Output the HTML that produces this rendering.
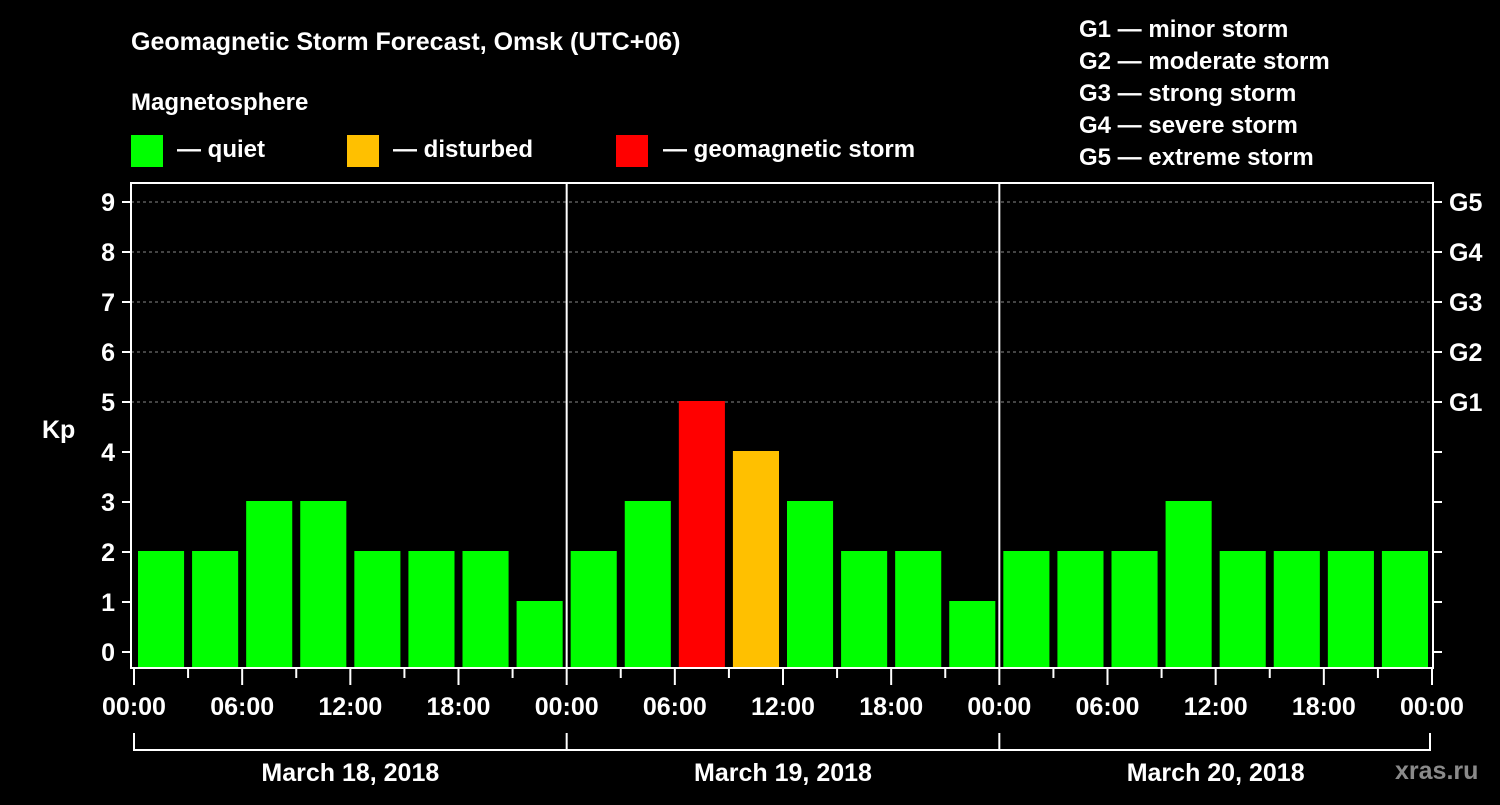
<!DOCTYPE html>
<html><head><meta charset="utf-8"><style>
body{margin:0;background:#000;width:1500px;height:800px;overflow:hidden}
svg text{font-family:"Liberation Sans",Arial,sans-serif;font-weight:bold;fill:#fff}
</style></head><body>
<svg id="c" width="1500" height="800" xmlns="http://www.w3.org/2000/svg">
<rect width="1500" height="800" fill="#000"/>
<text x="131" y="50" font-size="25">Geomagnetic Storm Forecast, Omsk (UTC+06)</text>
<text x="131" y="110" font-size="24">Magnetosphere</text>
<rect x="131" y="135" width="32" height="32" fill="#00ff00"/>
<text x="177" y="157" font-size="24">— quiet</text>
<rect x="347" y="135" width="32" height="32" fill="#ffc000"/>
<text x="393" y="157" font-size="24">— disturbed</text>
<rect x="616" y="135" width="32" height="32" fill="#ff0000"/>
<text x="663" y="157" font-size="24">— geomagnetic storm</text>
<g font-size="24">
<text x="1079" y="37">G1 — minor storm</text>
<text x="1079" y="69">G2 — moderate storm</text>
<text x="1079" y="101">G3 — strong storm</text>
<text x="1079" y="133">G4 — severe storm</text>
<text x="1079" y="165">G5 — extreme storm</text>
</g>
<text x="42" y="438" font-size="25">Kp</text>
<text x="1395" y="779" font-size="25" fill="#888" style="fill:#8a8a8a">xras.ru</text>
<g id="g"></g>
</svg>
<script>
const kpValues=[2,2,3,3,2,2,2,1, 2,3,5,4,3,2,2,1, 2,2,2,3,2,2,2,2];
const dayLabels=["March 18, 2018","March 19, 2018","March 20, 2018"];
const hourLabels=["00:00","06:00","12:00","18:00"];
const yTicks=[0,1,2,3,4,5,6,7,8,9];
const gLabels=["G1","G2","G3","G4","G5"];
const NS="http://www.w3.org/2000/svg";
const g=document.getElementById('g');
const L=134,R=1433,T=183,B=668;
const dayW=(R-1-L)/3;
const slotW=dayW/8;
const y=v=>652-50*v;
const x=i=>L+i*slotW;
function mk(t,a){const e=document.createElementNS(NS,t);for(const k in a)e.setAttribute(k,a[k]);g.appendChild(e);return e;}
// grid
for(let v=5;v<=9;v++){
 const e=mk('line',{x1:131,x2:R,y1:y(v),y2:y(v),stroke:'#888','stroke-dasharray':'3,3','stroke-width':1});
 
 
}
// bars
kpValues.forEach((v,i)=>{
 const c=v>=5?'#ff0000':v>=4?'#ffc000':'#00ff00';
 const e=mk('rect',{x:x(i)+4,y:y(v)-1,width:slotW-8,height:B-y(v)+1,fill:c});
 
 
});
// frame
const f=mk('rect',{x:131,y:T,width:R-131,height:B-T,fill:'none',stroke:'#fff','stroke-width':2});


for(let d=1;d<3;d++){
 const e=mk('line',{x1:L+d*dayW,x2:L+d*dayW,y1:T,y2:B,stroke:'#fff','stroke-width':2});
 
 
}
// y ticks
yTicks.forEach(v=>{
 const t=mk('line',{x1:122,x2:131,y1:y(v),y2:y(v),stroke:'#fff','stroke-width':2});
 
 
 const r=mk('line',{x1:R,x2:R+9,y1:y(v),y2:y(v),stroke:'#fff','stroke-width':2});
 
 
 const l=mk('text',{x:115,y:y(v)+9,'font-size':25,'text-anchor':'end'});
 l.textContent=v;
 
 
});
gLabels.forEach((s,i)=>{
 const l=mk('text',{x:1449,y:y(5+i)+9,'font-size':25});
 l.textContent=s;
 
 
});
// x ticks
for(let i=0;i<=24;i++){
 const major=i%2===0;
 const t=mk('line',{x1:x(i),x2:x(i),y1:B,y2:major?685:678,stroke:'#fff','stroke-width':2});
 
 
 if(major){
  const l=mk('text',{x:x(i),y:715,'font-size':25,'text-anchor':'middle'});
  l.textContent=hourLabels[(i/2)%4];
  
  
 }
}
// day brackets
const br=mk('path',{d:`M${L},733V750H${R-3}V733`,fill:'none',stroke:'#fff','stroke-width':2});


dayLabels.forEach((s,d)=>{
 const v=mk('line',{x1:L+d*dayW,x2:L+d*dayW,y1:733,y2:750,stroke:'#fff','stroke-width':2});
 
 
 const l=mk('text',{x:L+(d+0.5)*dayW,y:781,'font-size':25,'text-anchor':'middle'});
 l.textContent=s;
 
 
});
</script>
</body></html>
